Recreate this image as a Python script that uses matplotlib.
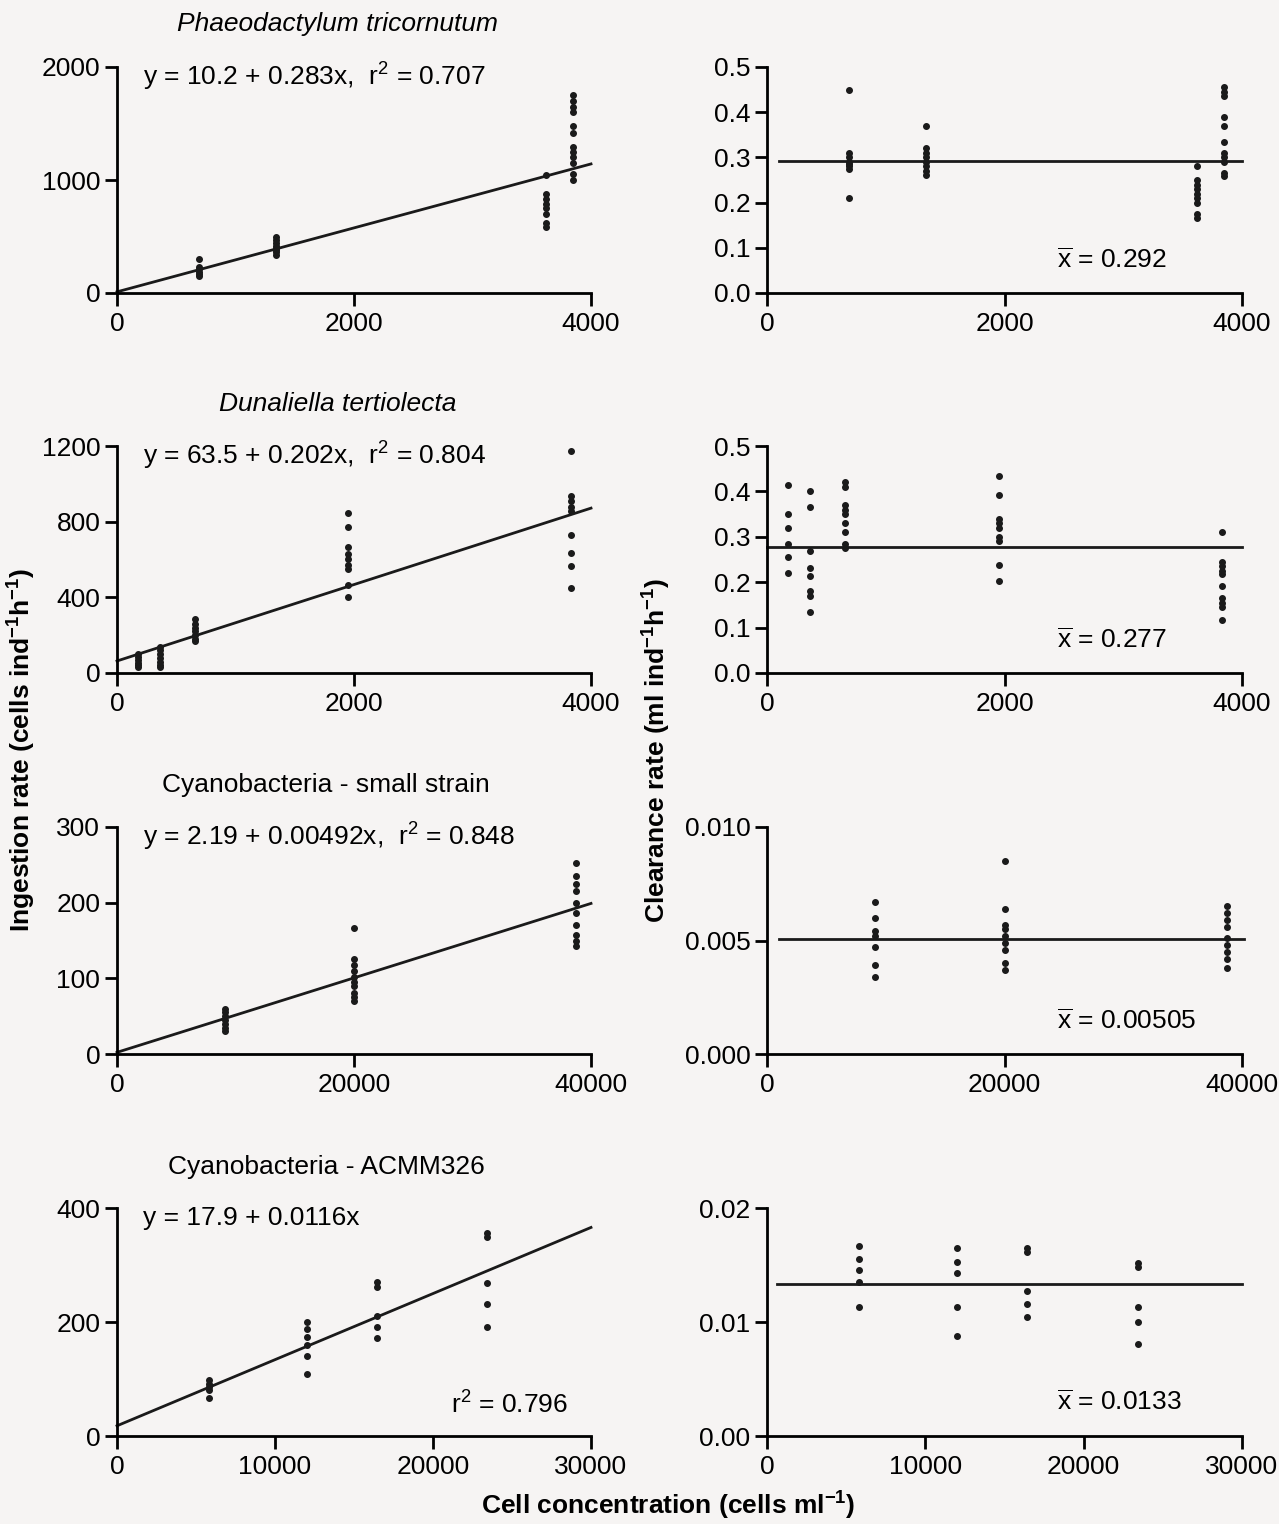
import matplotlib
matplotlib.use('Agg')
import matplotlib.pyplot as plt

plt.rcParams['font.family'] = ['Liberation Sans', 'DejaVu Sans']
plt.rcParams['mathtext.fontset'] = 'custom'
plt.rcParams['mathtext.rm'] = 'Liberation Sans'
plt.rcParams['mathtext.it'] = 'Liberation Sans:italic'
plt.rcParams['mathtext.bf'] = 'Liberation Sans:bold'

# --- data ---
# Phaeodactylum tricornutum
phaeo_conc = [690, 1340, 3620, 3845]
phaeo_ing = [[300, 230, 210, 190, 170, 150],
             [500, 470, 440, 420, 400, 380, 360, 340],
             [1040, 880, 830, 790, 750, 700, 620, 580],
             [1750, 1700, 1650, 1600, 1480, 1420, 1290, 1250, 1200, 1150, 1050, 1000]]
phaeo_clr = [[0.45, 0.31, 0.30, 0.29, 0.285, 0.28, 0.275, 0.21],
             [0.37, 0.32, 0.31, 0.30, 0.29, 0.28, 0.27, 0.26],
             [0.28, 0.25, 0.24, 0.23, 0.22, 0.21, 0.20, 0.175, 0.165],
             [0.455, 0.445, 0.435, 0.39, 0.37, 0.335, 0.31, 0.30, 0.29, 0.265, 0.258]]
phaeo_fit = (10.2, 0.283)
phaeo_mean = 0.292

# Dunaliella tertiolecta
dun_conc = [180, 360, 660, 1950, 3830]
dun_ing = [[100, 85, 70, 55, 40, 30],
           [140, 120, 100, 80, 60, 40, 30],
           [285, 260, 240, 220, 200, 180, 170],
           [846, 773, 664, 630, 600, 570, 549, 465, 404],
           [1173, 934, 910, 880, 858, 731, 634, 563, 448]]
dun_clr = [[0.415, 0.35, 0.32, 0.285, 0.255, 0.22],
           [0.40, 0.365, 0.268, 0.232, 0.213, 0.18, 0.17, 0.135],
           [0.42, 0.41, 0.37, 0.36, 0.35, 0.33, 0.31, 0.285, 0.275],
           [0.434, 0.391, 0.34, 0.33, 0.32, 0.30, 0.29, 0.238, 0.203],
           [0.31, 0.245, 0.235, 0.225, 0.218, 0.192, 0.165, 0.155, 0.145, 0.117]]
dun_fit = (63.5, 0.202)
dun_mean = 0.277

# Cyanobacteria - small strain
small_conc = [9100, 20000, 38750]
small_ing = [[60, 55, 50, 45, 40, 35, 30],
             [167, 125, 118, 110, 102, 95, 90, 81, 75, 70],
             [252, 235, 225, 215, 200, 186, 171, 157, 150, 143]]
small_clr = [[0.0067, 0.0060, 0.0054, 0.0052, 0.0047, 0.0039, 0.0034],
             [0.0085, 0.0064, 0.0057, 0.0055, 0.0052, 0.0049, 0.0046, 0.0040, 0.0037],
             [0.0065, 0.0062, 0.0059, 0.0056, 0.0051, 0.0048, 0.0045, 0.0042, 0.0038]]
small_fit = (2.19, 0.00492)
small_mean = 0.00505

# Cyanobacteria - ACMM326
acmm_conc = [5800, 12000, 16450, 23400]
acmm_ing = [[98, 92, 86, 80, 66],
            [200, 188, 173, 159, 140, 108],
            [270, 262, 210, 191, 172],
            [357, 350, 268, 231, 192]]
acmm_clr = [[0.0167, 0.0155, 0.0146, 0.0135, 0.0113],
            [0.0165, 0.0153, 0.0143, 0.0113, 0.0088],
            [0.0165, 0.0161, 0.0127, 0.0116, 0.0104],
            [0.0152, 0.0148, 0.0113, 0.0100, 0.0081]]
acmm_fit = (17.9, 0.0116)
acmm_mean = 0.0133

titles = ['Phaeodactylum tricornutum', 'Dunaliella tertiolecta',
          'Cyanobacteria - small strain', 'Cyanobacteria - ACMM326']
title_italic = [True, True, False, False]
equations = [r'y = 10.2 + 0.283x,  r$^{\mathregular{2}}$ = 0.707',
             r'y = 63.5 + 0.202x,  r$^{\mathregular{2}}$ = 0.804',
             r'y = 2.19 + 0.00492x,  r$^{\mathregular{2}}$ = 0.848',
             'y = 17.9 + 0.0116x']
mean_labels = ['0.292', '0.277', '0.00505', '0.0133']

x_ticks = [[0, 2000, 4000], [0, 2000, 4000], [0, 20000, 40000], [0, 10000, 20000, 30000]]
ing_ticks = [[0, 1000, 2000], [0, 400, 800, 1200], [0, 100, 200, 300], [0, 200, 400]]
clr_ticks = [[0, 0.1, 0.2, 0.3, 0.4, 0.5], [0, 0.1, 0.2, 0.3, 0.4, 0.5],
             [0, 0.005, 0.010], [0, 0.01, 0.02]]
clr_ticklabels = [['0.0', '0.1', '0.2', '0.3', '0.4', '0.5'],
                  ['0.0', '0.1', '0.2', '0.3', '0.4', '0.5'],
                  ['0.000', '0.005', '0.010'], ['0.00', '0.01', '0.02']]
# horizontal extent of the mean lines
mean_span = [(100, 4000), (0, 4000), (1000, 40200), (600, 30000)]

concs = [phaeo_conc, dun_conc, small_conc, acmm_conc]
ings = [phaeo_ing, dun_ing, small_ing, acmm_ing]
clrs = [phaeo_clr, dun_clr, small_clr, acmm_clr]
fits = [phaeo_fit, dun_fit, small_fit, acmm_fit]
means = [phaeo_mean, dun_mean, small_mean, acmm_mean]

W, H = 1279, 1524
fig = plt.figure(figsize=(W / 100, H / 100), dpi=100)
fig.patch.set_facecolor('#f6f4f3')

# pixel boxes: (bottom y of x axis, top y)
row_px = [(293, 67), (673, 446), (1054, 827), (1436, 1208)]
col_px = [(117, 591), (767, 1242)]
title_y = [24, 404, 785, 1167]
FS = 19


def style(ax):
    ax.set_facecolor('none')
    for s in ['top', 'right']:
        ax.spines[s].set_visible(False)
    for s in ['left', 'bottom']:
        ax.spines[s].set_linewidth(2)
    ax.tick_params(direction='out', length=9, width=2, labelsize=FS, pad=3)
    ax.tick_params(axis='x', pad=5)


for r in range(4):
    yb, yt = row_px[r]
    axes = []
    for c in range(2):
        x0, x1 = col_px[c]
        ax = fig.add_axes([x0 / W, 1 - yb / H, (x1 - x0) / W, (yb - yt) / H])
        style(ax)
        axes.append(ax)
    axL, axR = axes
    xmax = x_ticks[r][-1]

    # ingestion rate
    for xc, ys in zip(concs[r], ings[r]):
        axL.plot([xc] * len(ys), ys, 'o', color='#1a1a1a', ms=4, clip_on=False)
    a, b = fits[r]
    axL.plot([0, xmax], [a, a + b * xmax], color='#1a1a1a', lw=2, clip_on=False)
    axL.set_xlim(0, xmax)
    axL.set_ylim(0, ing_ticks[r][-1])
    axL.set_xticks(x_ticks[r])
    axL.set_yticks(ing_ticks[r])
    axL.text(0.055, 0.955, equations[r], transform=axL.transAxes, fontsize=FS, va='center')
    if r == 3:
        axL.text(0.705, 0.135, r'r$^{\mathregular{2}}$ = 0.796', transform=axL.transAxes,
                 fontsize=FS, va='center')

    # clearance rate
    for xc, ys in zip(concs[r], clrs[r]):
        axR.plot([xc] * len(ys), ys, 'o', color='#1a1a1a', ms=4, clip_on=False)
    axR.plot(mean_span[r], [means[r]] * 2, color='#1a1a1a', lw=2, clip_on=False)
    axR.set_xlim(0, xmax)
    axR.set_ylim(0, clr_ticks[r][-1])
    axR.set_xticks(x_ticks[r])
    axR.set_yticks(clr_ticks[r])
    axR.set_yticklabels(clr_ticklabels[r])
    axR.text(0.61, 0.145, r'$\overline{\mathregular{x}}$ = ' + mean_labels[r],
             transform=axR.transAxes, fontsize=FS, va='center')

    fig.text(338 / W if r < 2 else 326 / W, 1 - title_y[r] / H, titles[r], fontsize=FS,
             ha='center', va='center', style='italic' if title_italic[r] else 'normal')

fig.text(22 / W, 1 - 750 / H, r'Ingestion rate (cells ind$^{\mathbf{-1}}$h$^{\mathbf{-1}}$)',
         rotation=90, fontsize=FS, fontweight='bold', ha='center', va='center')
fig.text(657 / W, 1 - 750 / H, r'Clearance rate (ml ind$^{\mathbf{-1}}$h$^{\mathbf{-1}}$)',
         rotation=90, fontsize=FS, fontweight='bold', ha='center', va='center')
fig.text(668 / W, 1 - 1506 / H, r'Cell concentration (cells ml$^{\mathbf{-1}}$)',
         fontsize=FS, fontweight='bold', ha='center', va='center')

fig.savefig('out.png', dpi=100, facecolor=fig.get_facecolor())
